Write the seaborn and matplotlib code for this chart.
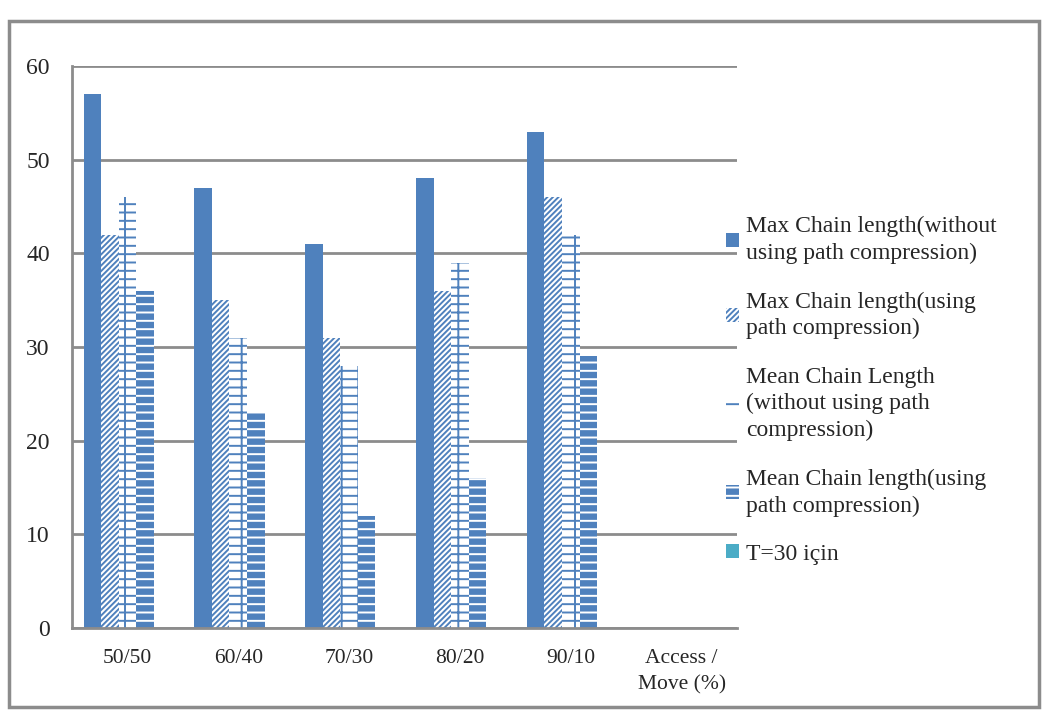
import numpy as np
import pandas as pd
import matplotlib
matplotlib.use("Agg")
import matplotlib.pyplot as plt
import seaborn as sns
from matplotlib.patches import Patch, Rectangle

#%%
categories = ["50/50", "60/40", "70/30", "80/20", "90/10", "Access /\nMove (%)"]
series = [
    "Max Chain length(without\nusing path compression)",
    "Max Chain length(using\npath compression)",
    "Mean Chain Length\n(without using path\ncompression)",
    "Mean Chain length(using\npath compression)",
    "T=30 için",
]
max_no_pc = [57, 47, 41, 48, 53, np.nan]
max_pc = [42, 35, 31, 36, 46, np.nan]
mean_no_pc = [46, 31, 28, 39, 42, np.nan]
mean_pc = [36, 23, 12, 16, 29, np.nan]
t30 = [0, 0, 0, 0, 0, np.nan]

values = [max_no_pc, max_pc, mean_no_pc, mean_pc, t30]
rows = []
for s, vals in zip(series, values):
    for c, v in zip(categories, vals):
        rows.append({"cat": c, "series": s, "val": v})
df = pd.DataFrame(rows)

blue = "#4F81BD"
faces = [blue, "white", "white", blue, "#4BACC6"]
edges = [blue, blue, blue, "white", "#4BACC6"]
hatches = [None, "//////", "--|", "--", None]

#%%
sns.set_style("white")
plt.rcParams["font.family"] = ["Liberation Serif", "DejaVu Serif"]
plt.rcParams["hatch.linewidth"] = 1.4

fig = plt.figure(figsize=(10.53, 7.22), dpi=100)
ax = fig.add_axes([72 / 1053, 1 - 628 / 722, (737 - 72) / 1053, (628 - 66) / 722])

g = sns.barplot(data=df, x="cat", y="val", hue="series", order=categories,
                hue_order=series, width=0.79, ax=ax, legend=False,
                palette=faces, saturation=1)

for cont, fc, ec, h in zip(ax.containers, faces, edges, hatches):
    for bar in cont:
        bar.set_facecolor(fc)
        bar.set_edgecolor(ec)
        bar.set_linewidth(0)
        if h:
            bar.set_hatch(h)

ax.set_ylim(0, 60)
ax.set_xlim(-0.5, len(categories) - 0.5)
ax.set_yticks(range(0, 61, 10))
ax.yaxis.grid(True, color="#8C8C8C", linewidth=2)
ax.set_axisbelow(True)
for s in ["top", "right"]:
    ax.spines[s].set_visible(False)
for s in ["left", "bottom"]:
    ax.spines[s].set_color("#8C8C8C")
    ax.spines[s].set_linewidth(2)

ax.set_xticks(np.arange(len(categories) + 1) - 0.5, minor=True)
ax.tick_params(axis="x", which="major", length=0, pad=15, labelsize=15.5)
ax.tick_params(axis="x", which="minor", length=6, width=2, color="#8C8C8C", direction="out")
ax.tick_params(axis="y", length=6, width=2, color="#8C8C8C", direction="out", labelsize=17, pad=10)
for lbl in ax.get_xticklabels():
    lbl.set_linespacing(1.5)
ax.set_xlabel("")
ax.set_ylabel("")

handles = [Patch(facecolor=fc, edgecolor=ec, hatch=h, linewidth=0)
           for fc, ec, h in zip(faces, edges, hatches)]
leg = fig.legend(handles, series, loc="upper left", bbox_to_anchor=(705 / 1053, 1 - 195 / 722),
                 frameon=False, fontsize=17, handlelength=0.55, handleheight=0.55,
                 handletextpad=0.3, labelspacing=1.15)
for t in leg.get_texts():
    t.set_linespacing(1.35)

fig.patches.append(Rectangle((9 / 1053, 1 - 707 / 722), 1030 / 1053, 686 / 722,
                             transform=fig.transFigure, fill=False,
                             edgecolor="#8C8C8C", linewidth=2.5))

plt.savefig("out.png", dpi=100)
